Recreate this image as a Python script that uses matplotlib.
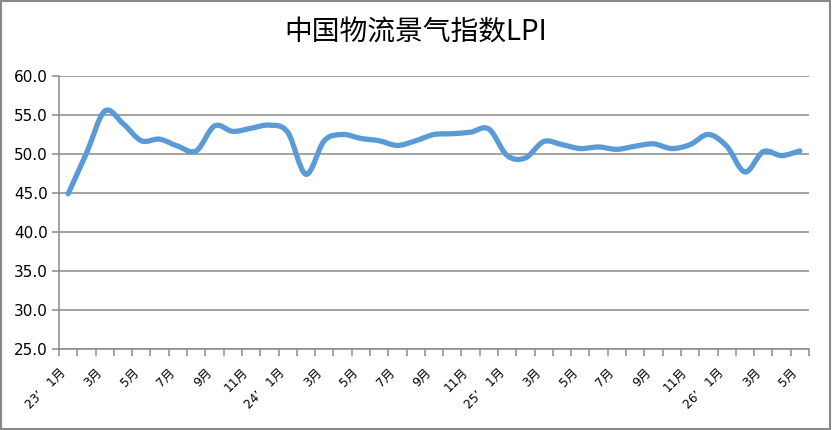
import matplotlib
matplotlib.use('Agg')
import matplotlib.pyplot as plt
import matplotlib.patches as patches
from matplotlib.path import Path
from matplotlib.transforms import ScaledTranslation

# ── DATA ─────────────────────────────────────────────────────────
months = ['1月', '2月', '3月', '4月', '5月', '6月', '7月', '8月', '9月', '10月', '11月', '12月'] * 4
months = months[:41]
years = {0: '23’', 12: '24’', 24: '25’', 36: '26’'}
lpi = [44.9, 50.1, 55.5, 53.9, 51.7, 51.9, 51.0, 50.4, 53.6, 52.9,
       53.3, 53.7, 52.8, 47.4, 51.7, 52.5, 52.0, 51.7, 51.1, 51.7,
       52.5, 52.6, 52.8, 53.2, 49.8, 49.5, 51.6, 51.2, 50.7, 50.9,
       50.6, 51.0, 51.3, 50.7, 51.2, 52.5, 51.0, 47.7, 50.3, 49.8, 50.4]

GRID = '#898989'
BLUE = '#5B9BD5'

fig = plt.figure(figsize=(8.32, 4.30), dpi=100)
fig.patch.set_facecolor('white')
ax = fig.add_axes([59/832, 81/430, 750/832, 273/430])

# smoothed line (Excel-style cubic bezier through the points)
x = list(range(len(lpi)))
pts = list(zip(x, lpi))
verts = [pts[0]]
codes = [Path.MOVETO]
for i in range(len(pts) - 1):
    p0 = pts[i - 1] if i > 0 else pts[i]
    p1, p2 = pts[i], pts[i + 1]
    p3 = pts[i + 2] if i + 2 < len(pts) else pts[i + 1]
    c1 = (p1[0] + (p2[0] - p0[0]) / 6, p1[1] + (p2[1] - p0[1]) / 6)
    c2 = (p2[0] - (p3[0] - p1[0]) / 6, p2[1] - (p3[1] - p1[1]) / 6)
    verts += [c1, c2, p2]
    codes += [Path.CURVE4] * 3
ax.add_patch(patches.PathPatch(Path(verts, codes), facecolor='none',
             edgecolor=BLUE, lw=3.8, capstyle='round', joinstyle='round', zorder=3))

ax.set_xlim(-0.5, len(lpi) - 0.5)
ax.set_ylim(25, 60)
ax.set_yticks(range(25, 61, 5))
ax.set_yticklabels([f'{v:.1f}' for v in range(25, 61, 5)], fontsize=11,
                   family='DejaVu Sans')
ax.yaxis.grid(True, color=GRID, lw=1.1)
ax.set_axisbelow(True)

# x: ticks at category boundaries, labels every other month
ax.set_xticks([i - 0.5 for i in range(len(lpi) + 1)], minor=True)
major = list(range(0, len(lpi), 2))
labels = [(years[i] + '   ' if i in years else '') + months[i] for i in major]
ax.set_xticks(major)
ax.set_xticklabels(labels, rotation=45, ha='right', fontsize=8.8,
                   family=['DejaVu Sans', 'Noto Sans CJK SC'])
shift = ScaledTranslation(3/72, 0, fig.dpi_scale_trans)
for lbl in ax.get_xticklabels():
    lbl.set_transform(lbl.get_transform() + shift)
ax.tick_params(axis='x', which='major', length=0, pad=12)
ax.tick_params(axis='x', which='minor', length=5, width=1.1, color=GRID)
ax.tick_params(axis='y', length=5, width=1.1, color=GRID, pad=3)

for s in ['top', 'right']:
    ax.spines[s].set_visible(False)
for s in ['left', 'bottom']:
    ax.spines[s].set_color(GRID)
    ax.spines[s].set_linewidth(1.1)

fig.text(0.5, 1 - 32/430, '中国物流景气指数LPI', ha='center', va='center',
         fontsize=20, family=['Noto Sans CJK SC', 'DejaVu Sans'])

# outer frame
fig.add_artist(patches.Rectangle((0.001, 0.002), 0.997, 0.996, transform=fig.transFigure,
               facecolor='none', edgecolor=GRID, lw=1.5))

fig.savefig('out.png', dpi=100, facecolor='white')
